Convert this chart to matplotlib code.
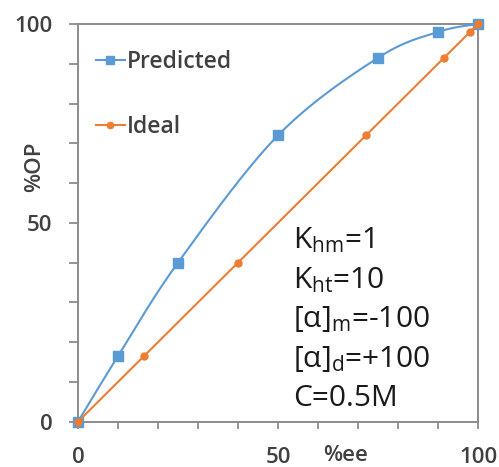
import numpy as np
import matplotlib
matplotlib.use("Agg")
import matplotlib.pyplot as plt

plt.rcParams['font.family'] = ['Open Sans', 'DejaVu Sans']
plt.rcParams['mathtext.fontset'] = 'custom'
plt.rcParams['mathtext.rm'] = 'Open Sans'
plt.rcParams['mathtext.default'] = 'regular'

# data
ee_predicted = [0, 10, 25, 50, 75, 90, 100]
op_predicted = [0, 16.5, 40, 72, 91.5, 98, 100]
ee_ideal = [0, 16.5, 40, 72, 91.5, 98, 100]
op_ideal = [0, 16.5, 40, 72, 91.5, 98, 100]
series_names = ["Predicted", "Ideal"]
x_ticklabels = ["0", "50", "100"]
y_ticklabels = ["0", "50", "100"]
params_text = [r"K$_{hm}$=1", r"K$_{ht}$=10", r"[α]$_{m}$=-100",
               r"[α]$_{d}$=+100", "C=0.5M"]

BLUE = "#5B9BD5"
ORANGE = "#ED7D31"
GRAY = "#8c8c8c"
TXT = "#404040"


def smooth(x, y, n=30):
    """Catmull-Rom style cubic smoothing through the given points."""
    x = np.asarray(x, float)
    y = np.asarray(y, float)
    px = np.concatenate([[x[0]], x, [x[-1]]])
    py = np.concatenate([[y[0]], y, [y[-1]]])
    xs, ys = [], []
    t = np.linspace(0, 1, n)
    for i in range(1, len(px) - 2):
        p0 = np.array([px[i], py[i]])
        p3 = np.array([px[i + 1], py[i + 1]])
        p1 = p0 + (np.array([px[i + 1], py[i + 1]]) - np.array([px[i - 1], py[i - 1]])) / 6
        p2 = p3 - (np.array([px[i + 2], py[i + 2]]) - np.array([px[i], py[i]])) / 6
        b = ((1 - t) ** 3)[:, None] * p0 + (3 * (1 - t) ** 2 * t)[:, None] * p1 \
            + (3 * (1 - t) * t ** 2)[:, None] * p2 + (t ** 3)[:, None] * p3
        xs.extend(b[:, 0])
        ys.extend(b[:, 1])
    return np.array(xs), np.array(ys)


fig = plt.figure(figsize=(4.99, 4.67), dpi=100)
ax = fig.add_axes([78 / 499, 1 - 421.7 / 467, 400 / 499, 397.7 / 467])

sx, sy = smooth(ee_predicted, op_predicted)
ax.plot(sx, sy, color=BLUE, lw=1.5, zorder=3, clip_on=False)
ax.plot(ee_predicted, op_predicted, ls='none', marker='s', ms=7, color=BLUE,
        zorder=4, clip_on=False)
ax.plot(ee_ideal, op_ideal, color=ORANGE, lw=1.5, marker='o', ms=5,
        zorder=5, clip_on=False)

# legend handles
h1, = ax.plot([], [], color=BLUE, lw=1.5, marker='s', ms=6)
h2, = ax.plot([], [], color=ORANGE, lw=1.5, marker='o', ms=4.5)
leg = ax.legend([h1, h2], series_names, loc='upper left',
                bbox_to_anchor=(0.045, 0.935), frameon=False,
                prop={'size': 16.5, 'weight': 'semibold'},
                handlelength=1.25, handletextpad=0.1, labelspacing=1.8,
                borderpad=0, borderaxespad=0)
for t in leg.get_texts():
    t.set_color(TXT)

ax.set_xlim(0, 100)
ax.set_ylim(0, 100)
ax.set_xticks(np.arange(0, 101, 10))
ax.set_yticks(np.arange(0, 101, 10))
ax.set_xticklabels([x_ticklabels[[0, 50, 100].index(v)] if v in (0, 50, 100) else ""
                    for v in range(0, 101, 10)])
ax.set_yticklabels([y_ticklabels[[0, 50, 100].index(v)] if v in (0, 50, 100) else ""
                    for v in range(0, 101, 10)])
ax.tick_params(axis='x', direction='out', length=5, width=1.3, color=GRAY,
               pad=13, labelsize=16, labelcolor=TXT)
ax.tick_params(axis='y', direction='out', length=6.3, width=1.3, color=GRAY,
               pad=12, labelsize=16, labelcolor=TXT)
for lab in ax.get_xticklabels() + ax.get_yticklabels():
    lab.set_fontweight('semibold')

for s in ax.spines.values():
    s.set_color(GRAY)
    s.set_linewidth(1.4)

ax.set_ylabel("%OP", fontsize=16, fontweight='semibold', color=TXT)
ax.yaxis.set_label_coords(-0.083, 0.64)
ax.set_xlabel("%ee", fontsize=16, fontweight='semibold', color=TXT, va='center')
ax.xaxis.set_label_coords(0.67, -0.084)

for i, line in enumerate(params_text):
    ax.text(0.537, 0.455 - i * 0.099, line, transform=ax.transAxes,
            fontsize=21.5, color="#1a1a1a", va='center', ha='left')

fig.savefig("out.png", dpi=100)
